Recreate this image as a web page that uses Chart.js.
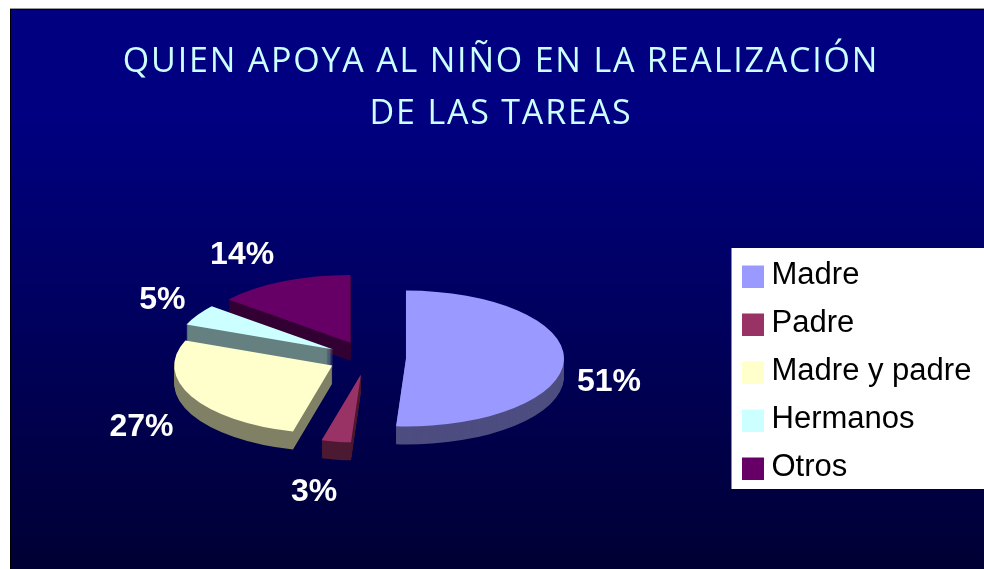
<!DOCTYPE html>
<html>
<head>
<meta charset="utf-8">
<style>html,body{margin:0;padding:0;background:#fff}canvas{display:block}</style>
<script src="https://cdn.jsdelivr.net/npm/chart.js@4"></script>
</head>
<body>
<canvas id="c" width="984" height="569"></canvas>
<script>
const categories = ['Madre', 'Padre', 'Madre y padre', 'Hermanos', 'Otros'];
const percentages = [51, 3, 27, 5, 14];
const sliceColors = ['#9999FF', '#993366', '#FFFFCC', '#CCFFFF', '#660066'];
const sideColors = ['#4D4D80', '#4D1A33', '#808066', '#668080', '#330033'];
const titleLines = ['QUIEN APOYA AL NIÑO EN LA REALIZACIÓN', 'DE LAS TAREAS'];

const pie3d = {
  id: 'pie3d',
  beforeDraw(chart) {
    const ctx = chart.ctx;
    ctx.save();
    ctx.fillStyle = '#fff';
    ctx.fillRect(0, 0, 984, 569);
    const g = ctx.createLinearGradient(0, 9, 0, 569);
    g.addColorStop(0, '#000080');
    g.addColorStop(0.2, '#000080');
    g.addColorStop(1, '#000034');
    ctx.fillStyle = g;
    ctx.fillRect(10, 9, 974, 560);
    ctx.fillStyle = '#999';
    ctx.fillRect(10, 8, 974, 1);
    ctx.fillStyle = '#000';
    ctx.fillRect(10, 9, 974, 1);
    ctx.fillRect(10, 9, 1, 560);
    ctx.fillStyle = '#fff';
    ctx.fillRect(731, 248, 253, 241);
    ctx.fillStyle = '#888';
    ctx.fillRect(731, 248, 1, 241);
    ctx.restore();
  },
  afterLayout(chart, args, o) {
    const l = chart.legend;
    l.left = 737; l.top = 243; l.right = 984; l.bottom = 569; l.width = 247; l.height = 326;
    l.adjustHitBoxes();
    const t = chart.titleBlock;
    if (!t.$spaced) {
      const draw = t.draw;
      t.draw = function () {
        chart.ctx.save();
        chart.ctx.letterSpacing = o.titleSpacing;
        draw.call(this);
        chart.ctx.restore();
      };
      t.$spaced = true;
    }
  },
  beforeDatasetsDraw(chart, args, o) {
    const ctx = chart.ctx;
    const arcs = chart.getDatasetMeta(0).data;
    ctx.save();
    o.paintOrder.forEach(i => {
      const arc = arcs[i];
      const mid = (arc.startAngle + arc.endAngle) / 2;
      const base = arc.options;
      const place = dy => {
        ctx.save();
        ctx.translate(o.cx, o.cy + dy);
        ctx.scale(1, o.squash);
        ctx.translate(Math.cos(mid) * o.explode - arc.x, Math.sin(mid) * o.explode - arc.y);
      };
      arc.options = Object.assign({}, base, {backgroundColor: sideColors[i], borderWidth: 0, offset: 0});
      for (let d = o.depth; d > 0; d--) { place(d); arc.draw(ctx); ctx.restore(); }
      arc.options = Object.assign({}, base, {borderWidth: 0, offset: 0});
      place(0); arc.draw(ctx); ctx.restore();
      arc.options = base;
    });
    ctx.restore();
    return false;
  },
  afterDraw(chart, args, o) {
    const ctx = chart.ctx;
    const arcs = chart.getDatasetMeta(0).data;
    ctx.save();
    ctx.fillStyle = '#fff';
    ctx.font = 'bold 32px "Liberation Sans"';
    ctx.textAlign = 'center';
    ctx.textBaseline = 'middle';
    arcs.forEach((arc, i) => {
      const mid = (arc.startAngle + arc.endAngle) / 2;
      const r = arc.outerRadius + o.explode;
      const x = o.cx + Math.cos(mid) * r + o.labelNudge[i][0];
      const y = o.cy + Math.sin(mid) * r * o.squash + o.labelNudge[i][1];
      ctx.fillText(percentages[i] + '%', x, y);
    });
    ctx.restore();
  }
};

function swatch(color) {
  const s = document.createElement('canvas');
  s.width = 26; s.height = 24;
  const x = s.getContext('2d');
  x.fillStyle = color;
  x.fillRect(0, 2, 22, 22);
  return s;
}

new Chart(document.getElementById('c'), {
  type: 'pie',
  data: {
    labels: categories,
    datasets: [{data: percentages, backgroundColor: sliceColors, borderWidth: 0, radius: 158}]
  },
  plugins: [pie3d],
  options: {
    responsive: false,
    animation: false,
    events: [],
    layout: {padding: {left: 18}},
    plugins: {
      tooltip: {enabled: false},
      title: {
        display: true,
        text: titleLines,
        color: '#CCFFFF',
        font: {family: '"Open Sans"', size: 34, weight: 'normal', lineHeight: 1.53},
        padding: {top: 36, bottom: 20}
      },
      legend: {
        position: 'chartArea',
        align: 'start',
        labels: {
          color: '#000',
          font: {family: '"Liberation Sans"', size: 31},
          usePointStyle: true,
          boxWidth: 2,
          boxHeight: 22,
          padding: 17,
          generateLabels: chart => categories.map((t, i) => ({
            text: t, fillStyle: sliceColors[i], strokeStyle: sliceColors[i], lineWidth: 0,
            pointStyle: swatch(sliceColors[i]), index: i, datasetIndex: 0, hidden: false
          }))
        }
      },
      pie3d: {
        cx: 367, cy: 358, squash: 0.43, explode: 39, depth: 18, titleSpacing: '1.8px',
        paintOrder: [4, 3, 2, 1, 0],
        labelNudge: [[45, 22], [-22, 51], [-50, 31], [-35, -15], [-41, -26]]
      }
    }
  }
});
</script>
</body>
</html>
